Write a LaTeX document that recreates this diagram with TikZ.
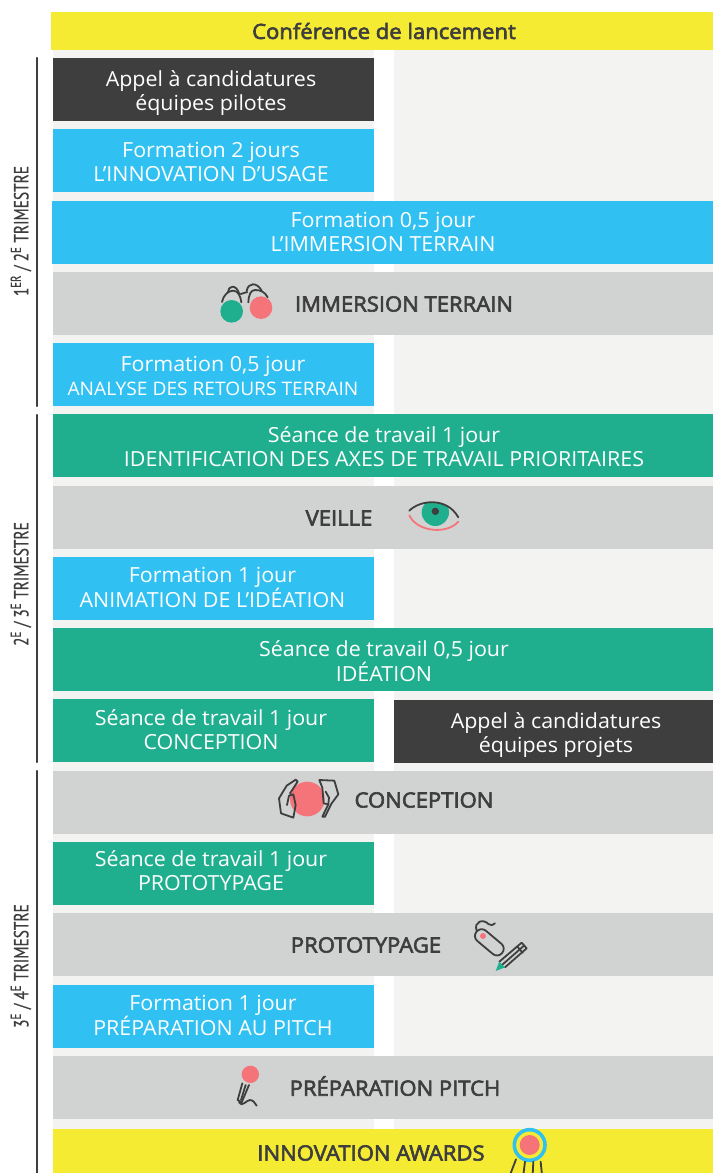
\documentclass[tikz,border=0pt]{standalone}
\usepackage{xcolor}
\usepackage{fontspec}
\setmainfont[FakeStretch=1.03]{Open Sans}
\newfontfamily\titrefont[FakeBold=3,FakeStretch=1.05]{Open Sans}
\newfontfamily\trimfont[FakeStretch=0.75,FakeBold=0.6]{PT Sans}
\definecolor{jaune}{HTML}{F4EB32}
\definecolor{sombre}{HTML}{3E3E3E}
\definecolor{bleu}{HTML}{30C1F2}
\definecolor{vert}{HTML}{1FAF8F}
\definecolor{gris}{HTML}{D1D3D2}
\definecolor{fond}{HTML}{F3F3F2}
\definecolor{rouge}{HTML}{F5747A}
\tikzset{
	bar/.style={inner sep=0pt, minimum height=63pt},
	petit/.style={bar, minimum width=321pt},
	large/.style={bar, minimum width=660pt},
	texte/.style={inner sep=0pt, align=center, text=white, font=\fontsize{20.8}{24}\selectfont, execute at begin node=\strut, execute at end node=\strut},
	titre/.style={inner sep=0pt, text=sombre, font=\fontsize{21}{24}\titrefont},
	trim/.style={inner sep=0pt, rotate=90, text=sombre, font=\fontsize{20.5}{22}\trimfont},
	trait/.style={draw=sombre, line width=1.8pt, line cap=round, line join=round},
	accolade/.style={draw=sombre, line width=2.2pt, line cap=round},
}
\begin{document}
\begin{tikzpicture}[x=1pt,y=-1pt]
	\useasboundingbox (0,0) rectangle (713,1173);
	\clip (0,0) rectangle (713,1173);
	\fill[fond] (53,50) rectangle (374,1173);
	\fill[fond] (394,50) rectangle (713,1173);

	\node[bar, fill=jaune, minimum width=662pt, minimum height=38pt] (lancement) at (382,31) {};
	\node[titre] (lancementlabel) at (384,31) {Conférence de lancement};

	% premier bloc
	\node[petit, fill=sombre] (appelpilotes) at (213.5,89.5) {};
	\node[texte] (appelpilotestxt) at (211,93.7) {Appel à candidatures\\équipes pilotes};
	\node[petit, fill=bleu] (usage) at (213.5,160.5) {};
	\node[texte] (usagetxt) at (211,165.7) {Formation 2 jours\\L’INNOVATION D’USAGE};
	\node[bar, fill=bleu, minimum width=661pt] (immersion) at (382.5,232.5) {};
	\node[texte] (immersiontxt) at (383,235.7) {Formation 0,5 jour\\L’IMMERSION TERRAIN};
	\node[large, fill=gris] (terrain) at (383,303.5) {};
	\node[titre] (terrainlabel) at (404,304) {IMMERSION TERRAIN};
	\node[petit, fill=bleu] (retours) at (213.5,374.5) {};
	\node[texte] (retourstxt) at (213,379.2) {Formation 0,5 jour\\{\fontsize{18.6}{24}\selectfont ANALYSE DES RETOURS TERRAIN}};

	% deuxieme bloc
	\node[large, fill=vert] (axes) at (383,445.5) {};
	\node[texte] (axestxt) at (384,449.7) {Séance de travail 1 jour\\IDENTIFICATION DES AXES DE TRAVAIL PRIORITAIRES};
	\node[large, fill=gris] (veille) at (383,517.5) {};
	\node[titre] (veillelabel) at (339,518) {VEILLE};
	\node[petit, fill=bleu] (animation) at (213.5,588.5) {};
	\node[texte] (animationtxt) at (212.5,591.2) {Formation 1 jour\\ANIMATION DE L’IDÉATION};
	\node[large, fill=vert] (ideation) at (383,659.5) {};
	\node[texte] (ideationtxt) at (384,664.7) {Séance de travail 0,5 jour\\IDÉATION};
	\node[petit, fill=vert] (conception) at (213.5,730.5) {};
	\node[texte] (conceptiontxt) at (211,732.7) {Séance de travail 1 jour\\CONCEPTION};
	\node[bar, fill=sombre, minimum width=319pt] (appelprojets) at (553.5,731.5) {};
	\node[texte] (appelprojetstxt) at (556,735.7) {Appel à candidatures\\équipes projets};

	% troisieme bloc
	\node[large, fill=gris] (concept) at (383,802.5) {};
	\node[titre] (conceptlabel) at (424,800) {CONCEPTION};
	\node[petit, fill=vert] (prototypage) at (213.5,873.5) {};
	\node[texte] (prototypagetxt) at (211,873.7) {Séance de travail 1 jour\\PROTOTYPAGE};
	\node[large, fill=gris] (proto) at (383,944.5) {};
	\node[titre] (protolabel) at (366,945) {PROTOTYPAGE};
	\node[petit, fill=bleu] (pitch) at (213.5,1016.5) {};
	\node[texte] (pitchtxt) at (213,1019.2) {Formation 1 jour\\PRÉPARATION AU PITCH};
	\node[large, fill=gris] (prepa) at (383,1087.5) {};
	\node[titre] (prepalabel) at (395,1086) {PRÉPARATION PITCH};
	\node[large, fill=jaune, minimum height=44pt] (awards) at (383,1151) {};
	\node[titre] (awardslabel) at (371,1153) {INNOVATION AWARDS};

	% trimestres
	\coordinate (t1a) at (37,58);
	\coordinate (t1b) at (37,406);
	\coordinate (t2a) at (37,415);
	\coordinate (t2b) at (37,762);
	\coordinate (t3a) at (37,771);
	\coordinate (t3b) at (37,1180);
	\draw[accolade] (t1a) -- (t1b);
	\draw[accolade] (t2a) -- (t2b);
	\draw[accolade] (t3a) -- (t3b);
	\node[trim] (trim1) at (21,231) {1\textsuperscript{ER} / 2\textsuperscript{E} TRIMESTRE};
	\node[trim] (trim2) at (21,584) {2\textsuperscript{E} / 3\textsuperscript{E} TRIMESTRE};
	\node[trim] (trim3) at (21,966) {3\textsuperscript{E} / 4\textsuperscript{E} TRIMESTRE};

	% lunettes
	\begin{scope}[shift={(200,270)},x=.3333pt,y=-.3333pt]
		\draw[trait] (66,96) .. controls (70,75) and (85,62) .. (100,62) .. controls (115,62) and (122,80) .. (124,97);
		\draw[trait] (84,65) .. controls (85,48) and (108,40) .. (118,72);
		\draw[trait] (122,72) -- (142,66);
		\draw[trait] (145,97) .. controls (146,75) and (152,60) .. (165,60) .. controls (180,60) and (195,65) .. (203,82);
		\draw[trait] (140,62) .. controls (145,38) and (170,35) .. (185,62);
		\fill[vert] (95,124) circle (34);
		\fill[rouge] (183,113) circle (34);
	\end{scope}

	% oeil
	\begin{scope}[shift={(390,490)},x=.3333pt,y=-.3333pt]
		\begin{scope}
			\clip (58,62) .. controls (90,30) and (170,20) .. (205,82) -- (205,140) -- (58,140) -- cycle;
			\fill[vert] (136,67) circle (41);
		\end{scope}
		\fill[sombre] (136,64) circle (11);
		\draw[trait] (58,62) .. controls (90,30) and (170,20) .. (205,82);
		\draw[trait, draw=rouge] (58,76) .. controls (80,125) and (170,135) .. (205,95);
	\end{scope}

	% mains
	\begin{scope}[shift={(265,765)},x=.3333pt,y=-.3333pt]
		\fill[rouge] (127,102) circle (52);
		\draw[trait] (75,85) -- (98,50) -- (92,44) -- (65,62) -- (42,100) -- (48,145) -- (85,158) -- (92,120) -- (85,88) -- (72,92) -- (66,120);
		\draw[trait] (172,68) -- (163,45) -- (208,47) -- (220,88) -- (200,115) -- (180,155) -- (172,155) -- (190,118) -- (176,115) -- (172,68);
		\draw[trait] (190,118) -- (192,98) -- (182,80);
	\end{scope}

	% souris et crayon
	\begin{scope}[shift={(460,910)},x=.3333pt,y=-.3333pt]
		\draw[trait, rotate around={-40:(88,97)}, rounded corners=6.5pt] (38,77) rectangle (138,117);
		\fill[rouge] (69,78) circle (9);
		\draw[trait] (50,62) .. controls (40,35) and (70,25) .. (85,42) .. controls (92,48) and (100,46) .. (105,40);
		\draw[trait] (118,155) -- (185,98) -- (200,115) -- (135,172);
		\draw[trait] (127,164) -- (192,107);
		\draw[trait] (172,110) -- (188,128);
		\fill[vert] (107,183) -- (135,172) -- (118,155) -- cycle;
	\end{scope}

	% micro
	\begin{scope}[shift={(225,1055)},x=.3333pt,y=-.3333pt]
		\fill[rouge] (76,58) circle (26);
		\draw[trait] (52,85) -- (38,135) -- (50,142) -- (72,90);
		\draw[trait] (62,90) -- (48,135);
		\draw[trait] (42,142) .. controls (50,158) and (65,135) .. (75,135) .. controls (85,135) and (90,145) .. (95,152);
	\end{scope}

	% medaille
	\begin{scope}[shift={(490,1120)},x=.3333pt,y=-.3333pt]
		\draw[bleu, line width=3.6pt] (119,75) circle (46);
		\fill[rouge] (119,75) circle (30);
		\draw[trait] (78,118) -- (60,165);
		\draw[trait] (105,125) -- (100,165);
		\draw[trait] (130,125) -- (128,165);
		\draw[trait] (152,125) -- (156,165);
	\end{scope}
\end{tikzpicture}
\end{document}
